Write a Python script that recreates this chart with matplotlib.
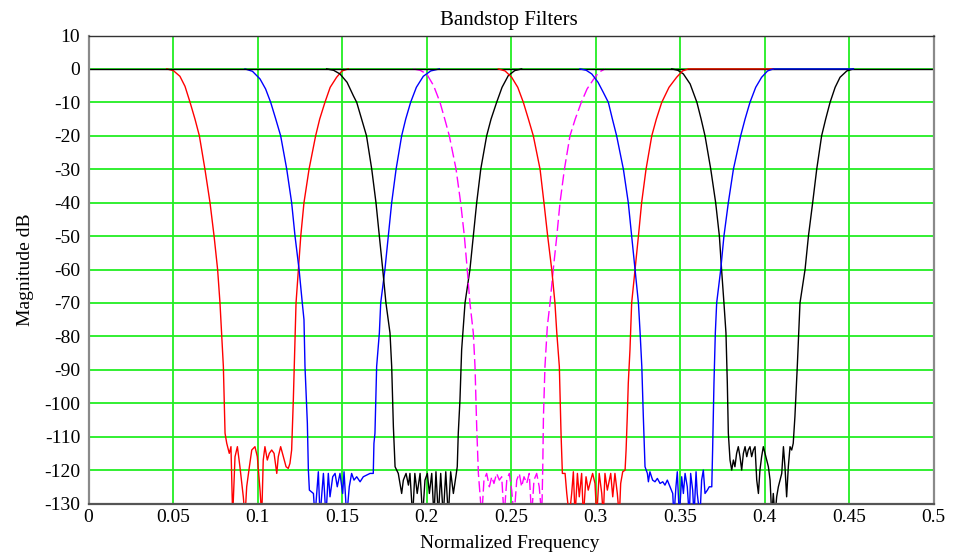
import matplotlib
matplotlib.use("Agg")
from matplotlib import pyplot as plt

matplotlib.rcParams.update({
    'font.family': 'Liberation Serif',
    'font.size': 14,
    'lines.linewidth': 1.0,
    'axes.unicode_minus': False,
})

# --- filter responses (freq, dB) ---
red1_x = [0.0463, 0.0502, 0.0541, 0.0571, 0.0601, 0.0630, 0.0656, 0.0689, 0.0719, 0.0743, 0.0764, 0.0778,
          0.0798, 0.0808, 0.0818,
          0.0833, 0.0843, 0.0853, 0.0867, 0.0881, 0.0896, 0.0916, 0.0926, 0.0936, 0.0952, 0.0966, 0.0985,
          0.0999, 0.1015, 0.1025, 0.1034, 0.1044, 0.1058, 0.1070, 0.1084, 0.1098, 0.1114, 0.1123, 0.1137,
          0.1153, 0.1169, 0.1182, 0.1192, 0.1202, 0.1212, 0.1228, 0.1242, 0.1256, 0.1275, 0.1305, 0.1344,
          0.1368, 0.1399, 0.1430, 0.1468, 0.1500, 0.1537]
red1_y = [0, -0.5, -2.2, -5.2, -10, -15, -20, -30, -40, -50, -60, -70,
          -89, -109, -112,
          -115, -113, -134, -116, -113, -119, -128, -134, -125, -119, -114, -113,
          -116, -126, -134, -117, -113, -117, -115, -114, -115, -121, -116, -113,
          -116, -119, -119.5, -118, -114, -99, -70, -60, -50, -40, -30, -20,
          -15, -10, -5.5, -2.5, -0.6, 0]

blue2_x = [0.0926, 0.0970, 0.1015, 0.1048, 0.1078, 0.1108, 0.1137, 0.1173, 0.1202, 0.1222, 0.1246, 0.1265,
           0.1275, 0.1281, 0.1295,
           0.1301, 0.1307, 0.1331, 0.1340, 0.1360, 0.1370, 0.1390, 0.1405, 0.1419, 0.1429, 0.1445, 0.1459,
           0.1472, 0.1488, 0.1504, 0.1512, 0.1528, 0.1543, 0.1557, 0.1571, 0.1587, 0.1607, 0.1626, 0.1646,
           0.1666, 0.1685, 0.1689, 0.1695, 0.1705, 0.1721, 0.1729, 0.1754, 0.1774, 0.1794, 0.1820, 0.1853,
           0.1877, 0.1906, 0.1940, 0.1981, 0.2025, 0.2076]
blue2_y = [0, -0.7, -3, -6, -10, -15, -20, -30, -40, -50, -60, -70,
           -75, -89, -106,
           -120, -126, -127, -134, -120.5, -134, -121, -134, -121, -128, -122, -121,
           -125, -121, -127, -120.5, -134, -125, -121, -123, -122, -123.5, -122, -121.5,
           -121, -121, -112, -109, -89, -79, -70, -60, -50, -40, -30, -20,
           -15, -10, -5.5, -2.2, -0.6, 0]

black3_x = [0.1409, 0.1450, 0.1488, 0.1530, 0.1567, 0.1587, 0.1616, 0.1645, 0.1676, 0.1701, 0.1721, 0.1741,
            0.1760, 0.1784, 0.1794, 0.1804,
            0.1814, 0.1833, 0.1853, 0.1863, 0.1879, 0.1893, 0.1902, 0.1918, 0.1931, 0.1945, 0.1962, 0.1977,
            0.1991, 0.2005, 0.2017, 0.2031, 0.2044, 0.2056, 0.2070, 0.2084, 0.2099, 0.2114, 0.2129, 0.2143,
            0.2159, 0.2175, 0.2182, 0.2188, 0.2198, 0.2208, 0.2228, 0.2257, 0.2277, 0.2297, 0.2321, 0.2356,
            0.2382, 0.2415, 0.2447, 0.2484, 0.2522, 0.2563]
black3_y = [0, -0.4, -1.5, -4, -8, -10, -15, -20, -30, -40, -50, -60,
            -70, -79, -89, -107,
            -119, -121, -127, -123, -121, -124.5, -121, -134, -121, -127, -121, -134,
            -123, -121, -127, -121, -134, -120.5, -134, -121, -134, -120.5, -134, -120.5,
            -127, -121.5, -119, -109, -99, -84, -70, -60, -50, -40, -30, -20,
            -15, -10, -5.5, -2, -0.5, 0]

magenta4_x = [0.1922, 0.1962, 0.2001, 0.2042, 0.2080, 0.2108, 0.2135, 0.2175, 0.2202, 0.2224, 0.2241, 0.2257,
              0.2277, 0.2287, 0.2297,
              0.2307, 0.2327, 0.2340, 0.2356, 0.2372, 0.2386, 0.2399, 0.2415, 0.2431, 0.2445, 0.2459, 0.2475,
              0.2490, 0.2504, 0.2518, 0.2534, 0.2549, 0.2563, 0.2577, 0.2593, 0.2608, 0.2622, 0.2636, 0.2652,
              0.2667, 0.2682, 0.2688, 0.2692, 0.2701, 0.2715, 0.2731, 0.2750, 0.2771, 0.2790, 0.2816, 0.2849,
              0.2880, 0.2916, 0.2950, 0.2987, 0.3020, 0.3056]
magenta4_y = [0, -0.4, -1.5, -5, -10, -15, -20, -30, -40, -50, -60, -70,
              -79, -89, -107,
              -121, -134, -123, -121, -125, -122, -124, -121, -123, -122, -134, -123,
              -121, -126, -134, -123, -121, -125, -122, -124, -121, -134, -123, -121,
              -125, -134, -119, -104, -89, -77, -70, -60, -50, -40, -30, -20,
              -15, -10, -6, -3.2, -1, 0]

red5_x = [0.2425, 0.2465, 0.2504, 0.2540, 0.2573, 0.2603, 0.2632, 0.2672, 0.2695, 0.2717, 0.2741, 0.2760,
          0.2771, 0.2786, 0.2796,
          0.2804, 0.2820, 0.2830, 0.2845, 0.2859, 0.2869, 0.2879, 0.2893, 0.2904, 0.2918, 0.2928, 0.2944,
          0.2957, 0.2972, 0.2983, 0.2997, 0.3007, 0.3022, 0.3037, 0.3046, 0.3056, 0.3070, 0.3082, 0.3090,
          0.3102, 0.3115, 0.3129, 0.3141, 0.3149, 0.3161, 0.3175, 0.3181, 0.3188, 0.3194, 0.3204, 0.3214,
          0.3234, 0.3254, 0.3273, 0.3299, 0.3333, 0.3360, 0.3392, 0.3435, 0.3480, 0.3515, 0.3549, 0.4052]
red5_y = [0, -0.6, -2.5, -5.5, -10, -15, -20, -30, -40, -50, -60, -70,
          -79, -89, -109,
          -121, -121, -127, -134, -127, -120.5, -134, -121, -128, -121, -134, -122,
          -126, -123, -121, -124, -134, -121, -127, -134, -121, -126, -123, -121,
          -128, -121, -127, -134, -124, -120.5, -120, -114, -104, -94, -84, -70,
          -60, -50, -40, -30, -20, -15, -10, -5.5, -2.5, -0.6, 0, 0]

blue6_x = [0.2908, 0.2945, 0.2978, 0.3015, 0.3046, 0.3076, 0.3100, 0.3125, 0.3165, 0.3194, 0.3214, 0.3234,
           0.3254, 0.3264, 0.3274, 0.3283,
           0.3293, 0.3307, 0.3313, 0.3322, 0.3338, 0.3352, 0.3366, 0.3382, 0.3398, 0.3411, 0.3425,
           0.3441, 0.3457, 0.3464, 0.3476, 0.3484, 0.3496, 0.3510, 0.3520, 0.3530, 0.3543, 0.3555, 0.3563,
           0.3575, 0.3583, 0.3595, 0.3602, 0.3618, 0.3628, 0.3638, 0.3648, 0.3662, 0.3673, 0.3688, 0.3693,
           0.3697, 0.3701, 0.3709, 0.3717, 0.3741, 0.3760, 0.3786, 0.3816, 0.3859, 0.3885, 0.3914, 0.3948,
           0.3983, 0.4018, 0.4052, 0.4526]
blue6_y = [0, -0.4, -1.5, -4, -7, -10, -15, -20, -30, -40, -50, -60,
           -70, -79, -89, -104,
           -119, -121, -123.5, -120.5, -123, -123.5, -122.5, -124, -123.5, -124.5, -123,
           -125, -127, -134, -125, -120.5, -134, -122, -127, -121, -125, -134, -121,
           -126, -134, -120.5, -127, -134, -123, -120, -127, -126, -125, -125, -114,
           -104, -94, -79, -70, -60, -50, -40, -30, -20, -15, -10, -5.5,
           -2.5, -0.6, 0, 0]

black7_x = [0.3451, 0.3487, 0.3520, 0.3560, 0.3600, 0.3625, 0.3648, 0.3682, 0.3711, 0.3733, 0.3746, 0.3760,
            0.3772, 0.3780, 0.3786,
            0.3796, 0.3806, 0.3816, 0.3825, 0.3835, 0.3845, 0.3855, 0.3865, 0.3875, 0.3885, 0.3895, 0.3904,
            0.3914, 0.3924, 0.3934, 0.3944, 0.3954, 0.3964, 0.3973, 0.3983, 0.3993, 0.4003, 0.4013, 0.4023,
            0.4033, 0.4043, 0.4052, 0.4062, 0.4072, 0.4082, 0.4102, 0.4112, 0.4121, 0.4131, 0.4141, 0.4151,
            0.4161, 0.4170, 0.4180, 0.4194, 0.4210, 0.4240, 0.4260, 0.4285, 0.4309, 0.4338, 0.4362, 0.4388,
            0.4418, 0.4447, 0.4487, 0.4526]
black7_y = [0, -0.4, -1.5, -4.5, -10, -15, -20, -30, -40, -50, -60, -70,
            -79, -94, -109,
            -117, -120, -117, -119, -115, -113, -116, -120, -115, -113, -116, -114,
            -113, -116, -114, -113, -123, -127, -120, -116, -113, -115, -117, -119,
            -123, -134, -127, -134, -128, -125, -121, -113, -119, -128, -119, -113,
            -114, -112, -104, -89, -70, -60, -50, -40, -30, -20, -15, -10,
            -5.5, -2.5, -0.6, 0]

x_ticks = [0, 0.05, 0.1, 0.15, 0.2, 0.25, 0.3, 0.35, 0.4, 0.45, 0.5]
x_ticklabels = ['0', '0.05', '0.1', '0.15', '0.2', '0.25', '0.3', '0.35', '0.4', '0.45', '0.5']
y_ticks = list(range(10, -131, -10))

fig = plt.figure(figsize=(9.56, 5.52), dpi=100)
ax = fig.add_axes([88.5 / 956, 48.5 / 552, 845 / 956, 468 / 552])

ax.plot(red1_x, red1_y, color='#ff0000', zorder=2)
ax.plot(blue2_x, blue2_y, color='#0000ff', zorder=2)
ax.plot(black3_x, black3_y, color='black', zorder=2)
ax.plot(magenta4_x, magenta4_y, color='#ff00ff', dashes=(8, 3), zorder=2)
ax.plot(black7_x, black7_y, color='black', zorder=2)
ax.axhline(0, color='black', lw=1.0, zorder=2.5)
ax.plot(red5_x, red5_y, color='#ff0000', zorder=3)
ax.plot(blue6_x, blue6_y, color='#0000ff', zorder=3)

ax.set_xlim(0, 0.5)
ax.set_ylim(-130, 10)
ax.set_xticks(x_ticks)
ax.set_xticklabels(x_ticklabels)
ax.set_yticks(y_ticks)
ax.tick_params(length=0, labelsize=14)
ax.tick_params(axis='y', pad=6)
ax.tick_params(axis='x', pad=4)

ax.grid(True, color='#22ee22', lw=1.3)
ax.set_axisbelow(True)

for side in ['left', 'right']:
    ax.spines[side].set_color('#8a8a8a')
    ax.spines[side].set_linewidth(1.6)
ax.spines['bottom'].set_color('#555555')
ax.spines['bottom'].set_linewidth(1.6)
ax.spines['top'].set_color('#333333')
ax.spines['top'].set_linewidth(1.0)

fig.text(0.532, 0.9547, 'Bandstop Filters', ha='center', va='baseline', fontsize=15)
fig.text(0.5335, 0.0072, 'Normalized Frequency', ha='center', va='baseline', fontsize=14)
fig.text(25 / 956, 0.511, 'Magnitude dB', ha='center', va='center', rotation=90, fontsize=14)

fig.savefig('out.png', dpi=100)
